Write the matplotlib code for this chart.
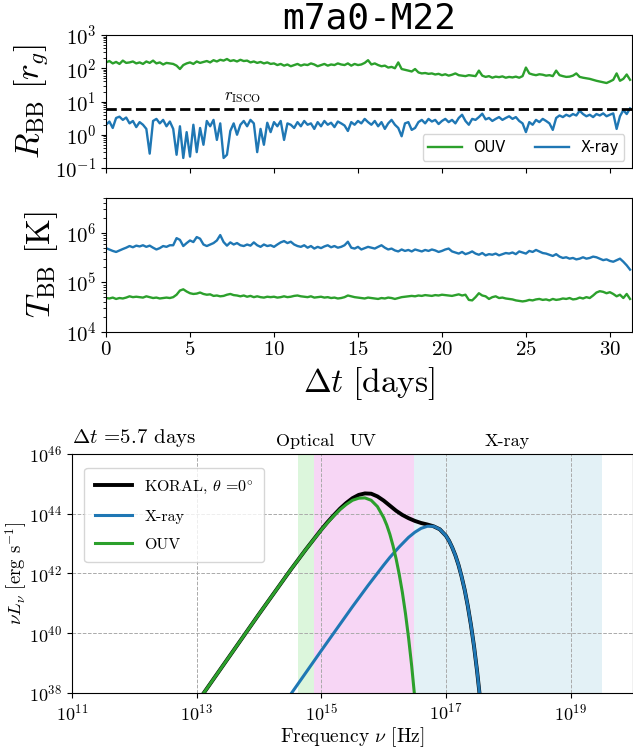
import numpy as np
import matplotlib
matplotlib.use('Agg')
import matplotlib.pyplot as plt
import matplotlib.transforms as mtransforms
from matplotlib.ticker import FixedLocator, NullLocator

plt.rcParams['mathtext.fontset'] = 'cm'
plt.rcParams['font.family'] = 'serif'
plt.rcParams['font.serif'] = ['cmr10']
plt.rcParams['axes.formatter.use_mathtext'] = True

# ---------------- time series (sampled every 0.2 days) ----------------
t_days = np.arange(157) * 0.2

R_ouv = [150,165,140,155,135,170,145,150,160,140,
         150,135,160,145,170,140,150,130,145,140,
         135,120,95,125,140,150,135,160,145,155,
         165,150,175,160,180,170,190,165,175,160,
         180,165,170,150,160,145,155,140,150,135,
         140,125,135,120,130,115,125,135,120,130,
         125,140,130,115,125,135,120,130,125,140,
         130,125,140,120,135,125,130,145,175,130,
         140,125,115,120,105,110,100,150,95,90,
         85,80,95,75,70,72,68,70,65,68,
         62,66,60,64,70,62,60,58,62,60,
         58,85,60,55,58,52,56,54,57,52,
         55,53,56,52,58,105,70,65,62,66,
         64,60,62,58,85,62,58,55,56,60,
         70,55,52,50,48,45,42,40,38,36,
         40,45,70,42,48,65,45]

R_xray = [2.0,2.5,1.6,3.2,3.5,2.8,3.3,2.2,2.6,1.7,
          2.4,2.0,1.5,0.27,2.6,3.0,2.2,2.8,1.8,2.5,
          1.5,0.25,1.8,0.2,1.2,0.22,2.0,0.3,1.6,0.5,
          2.6,1.8,2.8,0.7,2.2,0.2,0.25,1.3,2.2,1.0,
          2.0,2.6,1.8,2.8,2.2,0.3,1.5,0.5,2.3,1.2,
          2.4,1.8,2.6,0.7,2.2,2.0,1.6,2.4,1.8,2.6,
          2.0,2.2,1.5,2.4,1.8,2.6,2.0,2.3,1.7,2.5,
          2.2,1.9,1.3,2.4,2.0,2.6,2.2,3.0,2.4,2.0,
          2.6,1.8,2.4,1.5,2.2,2.8,2.0,1.6,0.9,2.2,
          2.4,1.4,1.6,2.4,2.8,2.2,3.0,2.5,2.8,2.1,
          2.6,3.0,2.4,2.8,2.2,3.2,4.0,2.6,2.0,3.0,
          2.8,3.4,4.3,2.9,3.2,2.6,3.0,3.4,2.8,3.2,
          3.6,3.0,3.4,2.6,2.2,1.2,2.4,2.0,2.8,2.4,
          3.0,2.6,2.2,1.4,3.2,3.8,3.4,4.0,3.6,4.2,
          3.8,5.3,4.2,3.6,4.0,3.4,4.2,3.8,4.4,3.6,
          4.0,4.4,1.5,3.6,5.5,4.2,6.2]

r_isco = 6.0

# temperatures: X-ray in units of 1e5 K, OUV in units of 1e4 K
T_xray_1e5 = [4.9,4.6,4.3,4.1,4.4,4.7,5.0,5.4,5.1,5.5,
              5.3,5.6,5.2,5.5,5.0,4.6,4.9,5.4,5.2,5.6,
              5.6,7.8,7.2,5.4,6.2,7.0,6.5,8.2,7.6,5.8,
              5.4,5.8,6.2,7.0,9.0,6.5,5.5,6.4,5.8,6.2,
              5.6,5.4,5.8,5.5,6.4,5.6,5.2,5.8,5.4,5.6,
              5.2,5.8,6.4,6.8,6.2,6.6,5.8,5.4,5.2,5.6,
              5.0,5.4,4.8,5.2,4.9,5.3,5.6,5.1,5.4,5.0,
              5.2,5.6,6.6,5.0,4.8,5.2,4.6,4.9,5.2,5.0,
              4.8,5.2,5.6,5.0,4.6,4.8,4.4,4.2,4.6,4.3,
              4.5,4.2,4.6,4.4,4.2,4.5,4.3,4.6,4.4,4.1,
              4.3,4.6,4.8,4.2,4.0,3.8,4.1,3.7,3.9,4.2,
              3.8,3.6,3.9,3.5,3.7,3.6,3.8,3.5,3.7,3.9,
              3.8,4.0,3.7,4.2,4.0,3.8,4.3,4.1,4.5,4.2,
              3.9,3.8,3.6,3.4,3.7,3.3,3.1,3.2,3.0,3.1,
              2.9,3.0,3.2,3.0,3.1,3.3,3.2,3.0,2.8,2.9,
              2.7,2.6,2.8,3.0,2.6,2.2,1.8]

T_ouv_1e4 = [4.8,4.7,4.9,4.6,4.8,4.7,4.9,5.2,5.0,5.1,
             5.0,4.9,5.2,5.0,4.8,4.9,4.7,4.8,4.9,4.8,
             5.0,5.6,6.8,7.2,6.5,6.0,5.8,5.9,6.2,5.8,
             5.6,5.7,5.3,5.4,5.2,5.3,5.6,5.8,5.5,5.4,
             5.2,5.4,5.1,5.3,5.0,5.2,5.0,4.9,5.1,5.0,
             5.1,4.9,5.0,5.2,5.0,5.1,5.3,5.4,5.2,5.1,
             5.0,5.2,4.9,5.0,5.1,4.9,5.0,4.8,4.9,4.7,
             4.8,5.0,5.4,5.2,5.0,4.9,4.8,4.7,4.9,4.8,
             4.7,4.6,4.8,4.7,4.9,4.8,4.6,4.8,5.0,5.1,
             5.2,5.3,5.2,5.4,5.3,5.5,5.4,5.3,5.5,5.4,
             5.6,5.5,5.4,5.3,5.5,5.7,5.4,5.6,4.4,4.3,
             5.0,6.0,5.4,5.2,4.6,5.0,5.2,4.8,4.9,4.7,
             4.6,4.5,4.3,4.2,4.1,4.2,4.4,4.3,4.5,4.6,
             4.4,4.5,4.3,4.6,4.4,4.5,4.7,4.6,4.8,4.5,
             4.6,4.9,4.7,5.0,4.8,5.4,6.2,6.6,6.4,6.0,
             6.3,5.8,5.2,5.6,4.8,5.8,4.6]

# ---------------- spectra at dt = 5.7 days (log10 values) ----------------
lognu_koral = [13.0,13.5,14.0,14.5,14.75,15.0,15.1,15.2,15.3,15.4,15.5,15.6,15.7,15.8,
               15.9,16.0,16.1,16.2,16.3,16.4,16.5,16.6,16.7,16.75,16.8,16.9,17.0,17.05,
               17.1,17.15,17.2,17.25,17.3,17.35,17.4,17.45,17.5,17.55]
logL_koral = [37.66,39.15,40.64,42.10,42.80,43.47,43.72,43.95,44.17,44.36,44.52,44.63,44.68,44.67,
              44.58,44.44,44.27,44.10,43.96,43.85,43.76,43.69,43.64,43.61,43.58,43.48,43.26,43.09,
              42.87,42.61,42.29,41.90,41.45,40.91,40.28,39.56,38.71,37.75]

lognu_xray = [14.5,15.0,15.5,15.75,16.0,16.1,16.25,16.4,16.5,16.6,16.7,16.8,16.9,17.0,
              17.05,17.1,17.15,17.2,17.25,17.3,17.35,17.4,17.45,17.5,17.55]
logL_xray = [37.93,39.42,40.89,41.60,42.28,42.54,42.89,43.21,43.38,43.51,43.58,43.58,43.48,43.26,
             43.09,42.87,42.61,42.29,41.90,41.45,40.91,40.28,39.56,38.71,37.75]

lognu_ouv = [13.0,13.5,14.0,14.5,14.75,15.0,15.1,15.2,15.3,15.4,15.5,15.6,15.7,15.8,15.9,
             16.0,16.05,16.1,16.15,16.2,16.25,16.3,16.35,16.4,16.45,16.5]
logL_ouv = [37.66,39.15,40.64,42.10,42.80,43.46,43.70,43.93,44.14,44.31,44.45,44.52,44.53,44.45,44.24,
            43.87,43.62,43.31,42.93,42.49,41.97,41.37,40.66,39.84,38.90,37.82]

band_edges_log = [14.62, 14.88, 16.49, 19.5]   # optical | UV | X-ray
band_names = ['Optical', 'UV', 'X-ray']
band_label_pos_log = [14.74, 15.67, 17.98]
band_colors = ['#dcf6dc', '#f7d6f5', '#e3f1f6']

C_OUV = '#2ca02c'
C_X = '#1f77b4'

fig = plt.figure(figsize=(6.33, 7.5), dpi=100)

# ---------------- panel 1: radius ----------------
ax1 = fig.add_axes([0.1675, 0.776, 0.8305, 0.1773])
ax1.plot(t_days, R_ouv, color=C_OUV, lw=1.7, label='OUV')
ax1.plot(t_days, R_xray, color=C_X, lw=1.7, label='X-ray')
ax1.axhline(r_isco, color='k', ls='--', lw=2)
ax1.text(8.1, 8.0, r'$r_{\rm ISCO}$', ha='center', va='bottom', fontsize=12)
ax1.set_yscale('log')
ax1.set_ylim(0.1, 1000)
ax1.set_xlim(0, 31.3)
ax1.set_xticks([0, 5, 10, 15, 20, 25, 30])
ax1.tick_params(labelbottom=False, labelsize=15)
ax1.set_ylabel(r'$R_{\rm BB}\ [r_g]$', fontsize=24)
ax1.legend(loc='lower right', ncol=2, prop={'family': 'DejaVu Sans', 'size': 10.5},
           handlelength=2.3, columnspacing=2.0)
ax1.set_title('m7a0-M22', family='DejaVu Sans Mono', fontsize=26, pad=4)

# ---------------- panel 2: temperature ----------------
ax2 = fig.add_axes([0.1675, 0.5577, 0.8305, 0.178])
ax2.plot(t_days, np.array(T_xray_1e5) * 1e5, color=C_X, lw=1.7)
ax2.plot(t_days, np.array(T_ouv_1e4) * 1e4, color=C_OUV, lw=1.7)
ax2.set_yscale('log')
ax2.set_ylim(1e4, 5e6)
ax2.set_xlim(0, 31.3)
ax2.set_xticks([0, 5, 10, 15, 20, 25, 30])
ax2.tick_params(labelsize=15)
ax2.set_ylabel(r'$T_{\rm BB}\ [{\rm K}]$', fontsize=24)
ax2.set_xlabel(r'$\Delta t\ [{\rm days}]$', fontsize=24)

# ---------------- panel 3: spectrum ----------------
ax3 = fig.add_axes([0.1137, 0.076, 0.8863, 0.3187])
for i in range(3):
    ax3.axvspan(10 ** band_edges_log[i], 10 ** band_edges_log[i + 1],
                color=band_colors[i], zorder=0, lw=0)
ax3.plot(10 ** np.array(lognu_koral), 10 ** np.array(logL_koral), color='k', lw=2.8,
         label=r'KORAL, $\theta$ =$0^{\circ}$')
ax3.plot(10 ** np.array(lognu_xray), 10 ** np.array(logL_xray), color=C_X, lw=2.2, label='X-ray')
ax3.plot(10 ** np.array(lognu_ouv), 10 ** np.array(logL_ouv), color=C_OUV, lw=2.2, label='OUV')
ax3.set_xscale('log')
ax3.set_yscale('log')
ax3.set_xlim(1e11, 1e20)
ax3.set_ylim(1e38, 1e46)
ax3.xaxis.set_major_locator(FixedLocator([1e11, 1e13, 1e15, 1e17, 1e19]))
ax3.yaxis.set_major_locator(FixedLocator([1e38, 1e40, 1e42, 1e44, 1e46]))
ax3.xaxis.set_minor_locator(NullLocator())
ax3.yaxis.set_minor_locator(NullLocator())
ax3.set_axisbelow(True)
ax3.grid(True, ls='--', color='#aaaaaa', lw=0.7)
ax3.tick_params(labelsize=13)
ax3.set_xlabel(r'Frequency $\nu$ [Hz]', fontsize=14, labelpad=1)
ax3.set_ylabel(r'$\nu L_\nu$ [erg s$^{-1}$]', fontsize=13.5)
ax3.yaxis.set_label_coords(-0.076, 0.5)
ax3.legend(loc='upper left', bbox_to_anchor=(0.008, 0.975), fontsize=11.5, handlelength=2.3,
           labelspacing=0.85, borderpad=0.65)
trans = mtransforms.blended_transform_factory(ax3.transData, ax3.transAxes)
for name, pos in zip(band_names, band_label_pos_log):
    ax3.text(10 ** pos, 1.02, name, transform=trans, ha='center', va='bottom', fontsize=13)
ax3.text(0.0, 1.02, r'$\Delta t$ =5.7 days', transform=ax3.transAxes, ha='left',
         va='bottom', fontsize=15)

fig.savefig('out.png', dpi=100)
